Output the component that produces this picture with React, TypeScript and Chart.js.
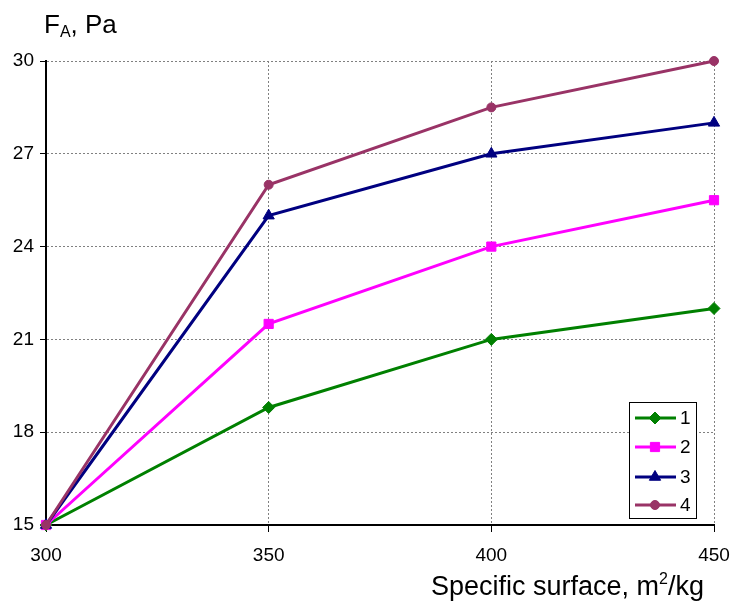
import React, { useEffect, useRef } from "react";
import { Chart, registerables } from "chart.js";

Chart.register(...registerables);

const xValues = [300, 350, 400, 450];
const series1 = [15, 18.8, 21, 22];
const series2 = [15, 21.5, 24, 25.5];
const series3 = [15, 25, 27, 28];
const series4 = [15, 26, 28.5, 30];
const seriesNames = ["1", "2", "3", "4"];
const seriesColors = ["#008000", "#FF00FF", "#000080", "#993366"];
const seriesMarkers = ["rectRot", "rect", "triangle", "circle"];
const markerRadius = [6, 6.5, 6.5, 4.5];
const yTicks = [15, 18, 21, 24, 27, 30];
const xTicks = [300, 350, 400, 450];

const FONT = "'Liberation Sans', Arial, sans-serif";

function drawMarker(ctx: CanvasRenderingContext2D, style: string, r: number, x: number, y: number) {
  ctx.beginPath();
  if (style === "rectRot") {
    ctx.moveTo(x, y - r);
    ctx.lineTo(x + r, y);
    ctx.lineTo(x, y + r);
    ctx.lineTo(x - r, y);
    ctx.closePath();
  } else if (style === "rect") {
    const s = r * Math.SQRT1_2;
    ctx.rect(x - s, y - s, 2 * s, 2 * s);
  } else if (style === "triangle") {
    ctx.moveTo(x, y - r);
    ctx.lineTo(x + r * 0.866, y + r * 0.5);
    ctx.lineTo(x - r * 0.866, y + r * 0.5);
    ctx.closePath();
  } else {
    ctx.arc(x, y, r, 0, Math.PI * 2);
  }
  ctx.fill();
  ctx.stroke();
}

export default function App() {
  const ref = useRef<HTMLCanvasElement | null>(null);
  useEffect(() => {
    document.body.style.margin = "0";
    const all = [series1, series2, series3, series4];
    const overlay = {
      id: "overlay",
      afterDraw(chart: any) {
        const ctx = chart.ctx;
        ctx.save();
        ctx.fillStyle = "#000";
        ctx.textBaseline = "alphabetic";
        // y title F_A, Pa
        ctx.font = `26px ${FONT}`;
        ctx.textAlign = "left";
        let x = 44;
        const yb = 33;
        ctx.fillText("F", x, yb);
        x += ctx.measureText("F").width;
        ctx.font = `16px ${FONT}`;
        ctx.fillText("A", x, yb + 4);
        x += ctx.measureText("A").width;
        ctx.font = `26px ${FONT}`;
        ctx.fillText(", Pa", x, yb);
        // x title
        const xb = 595;
        const p1 = "Specific surface, m";
        const p2 = "2";
        const p3 = "/kg";
        ctx.font = `27px ${FONT}`;
        const w1 = ctx.measureText(p1).width;
        const w3 = ctx.measureText(p3).width;
        ctx.font = `16px ${FONT}`;
        const w2 = ctx.measureText(p2).width;
        let sx = 704 - (w1 + w2 + w3);
        ctx.font = `27px ${FONT}`;
        ctx.fillText(p1, sx, xb);
        sx += w1;
        ctx.font = `16px ${FONT}`;
        ctx.fillText(p2, sx, xb - 11);
        sx += w2;
        ctx.font = `27px ${FONT}`;
        ctx.fillText(p3, sx, xb);
        // legend
        const lx = 629, ly = 402, lw = 67, lh = 116;
        ctx.fillStyle = "#fff";
        ctx.fillRect(lx, ly, lw, lh);
        ctx.strokeStyle = "#000";
        ctx.lineWidth = 1;
        ctx.strokeRect(lx + 0.5, ly + 0.5, lw, lh);
        const rows = [418, 447, 477, 505];
        for (let i = 0; i < 4; i++) {
          const ry = rows[i];
          ctx.strokeStyle = seriesColors[i];
          ctx.lineWidth = 3;
          ctx.beginPath();
          ctx.moveTo(635, ry);
          ctx.lineTo(676, ry);
          ctx.stroke();
          ctx.fillStyle = seriesColors[i];
          ctx.lineWidth = 1;
          drawMarker(ctx, seriesMarkers[i], markerRadius[i], 655, ry);
          ctx.fillStyle = "#000";
          ctx.font = `19px ${FONT}`;
          ctx.textAlign = "left";
          ctx.textBaseline = "middle";
          ctx.fillText(seriesNames[i], 680, ry + 1);
        }
        ctx.restore();
      },
    };
    const chart = new Chart(ref.current!, {
      type: "line",
      data: {
        datasets: all.map((s, i) => ({
          label: seriesNames[i],
          data: s.map((v, j) => ({ x: xValues[j], y: v })),
          borderColor: seriesColors[i],
          backgroundColor: seriesColors[i],
          borderWidth: 3,
          pointStyle: seriesMarkers[i] as any,
          pointRadius: markerRadius[i],
          pointBorderWidth: 1,
          tension: 0,
          clip: false as any,
          order: 3 - i,
        })),
      },
      options: {
        animation: false,
        responsive: false,
        layout: { padding: { left: 0, top: 61, right: 19, bottom: 0 } },
        plugins: { legend: { display: false }, tooltip: { enabled: false } },
        scales: {
          x: {
            type: "linear",
            min: 300,
            max: 450,
            afterFit: (s: any) => { s.height = 76; s.paddingRight = 0; s.paddingLeft = 0; },
            afterBuildTicks: (s: any) => { s.ticks = xTicks.map((v) => ({ value: v })); },
            ticks: { font: { family: FONT, size: 19 }, color: "#000", padding: 12, maxRotation: 0 },
            grid: { color: "#808080", tickColor: "#000", tickLength: 7, lineWidth: 1 },
            border: { color: "#000", width: 2, dash: [2, 2] },
          },
          y: {
            min: 15,
            max: 30,
            afterFit: (s: any) => { s.width = 46; s.paddingTop = 0; s.paddingBottom = 0; },
            afterBuildTicks: (s: any) => { s.ticks = yTicks.map((v) => ({ value: v })); },
            ticks: { font: { family: FONT, size: 19 }, color: "#000", padding: 6 },
            grid: { color: "#808080", tickColor: "#000", tickLength: 6, lineWidth: 1 },
            border: { color: "#000", width: 2, dash: [2, 2] },
          },
        },
      },
      plugins: [overlay],
    });
    return () => chart.destroy();
  }, []);
  return <canvas ref={ref} width={733} height={601} style={{ display: "block" }} />;
}
